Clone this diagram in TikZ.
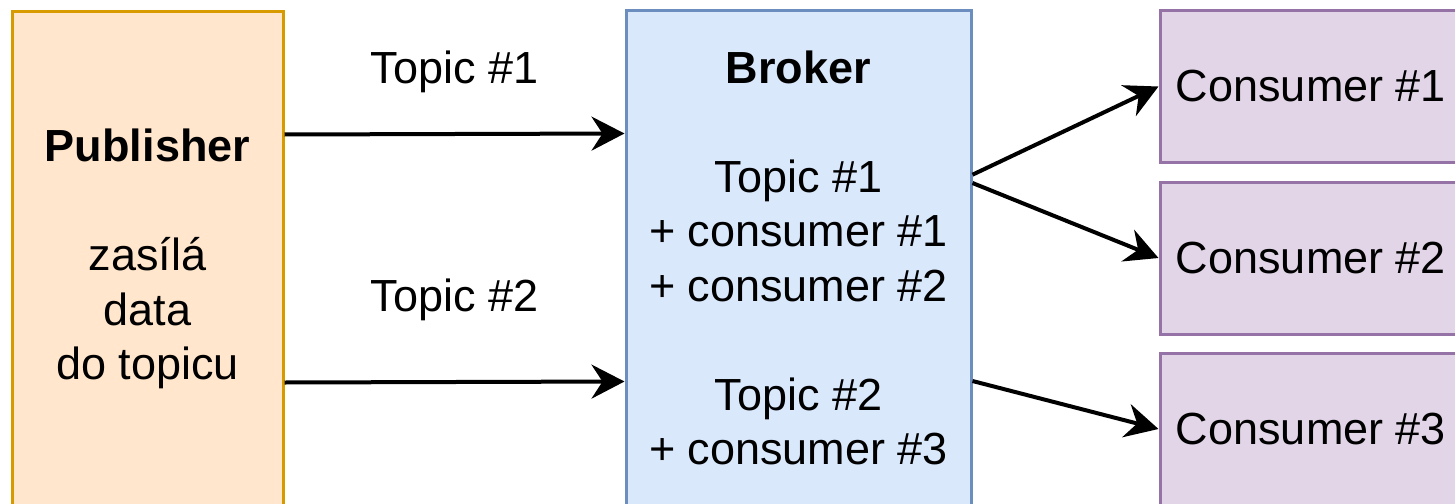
\documentclass[tikz,border=0pt]{standalone}
\usepackage{fontspec}
\setmainfont{Liberation Sans}
\usetikzlibrary{arrows.meta}
\definecolor{pubfill}{HTML}{FFE6CC}
\definecolor{pubdraw}{HTML}{D79B00}
\definecolor{brkfill}{HTML}{DAE8FC}
\definecolor{brkdraw}{HTML}{6C8EBF}
\definecolor{confill}{HTML}{E1D5E7}
\definecolor{condraw}{HTML}{9673A6}
\tikzset{
  box/.style={rectangle, line width=3pt, inner sep=0pt, align=center,
    font=\fontsize{45}{54.5}\selectfont},
  pubbox/.style={box, fill=pubfill, draw=pubdraw, minimum width=271pt, minimum height=495pt},
  brkbox/.style={box, fill=brkfill, draw=brkdraw, minimum width=345pt, minimum height=495pt},
  conbox/.style={box, fill=confill, draw=condraw, minimum width=302pt, minimum height=152pt},
  conn/.style={line width=4pt, -{Stealth[length=33pt,width=34pt,inset=11pt]}},
  lbl/.style={font=\fontsize{45}{54.5}\selectfont, inner sep=0pt}
}
\begin{document}
\begin{tikzpicture}[x=1pt,y=-1pt]
\useasboundingbox (0,0) rectangle (1455,503);
\clip (0,0) rectangle (1455,503);
\node[pubbox] (pub) at (147.5,259) {\textbf{Publisher}\\ \\zasílá\\data\\do topicu};
\node[brkbox] (brk) at (798.5,258) {\textbf{Broker}\\ \\Topic \#1\\+ consumer \#1\\+ consumer \#2\\ \\Topic \#2\\+ consumer \#3};
\node[conbox] (c1) at (1311,86.5) {Consumer \#1};
\node[conbox] (c2) at (1311,258) {Consumer \#2};
\node[conbox] (c3) at (1311,429) {Consumer \#3};
\draw[conn] ([yshift=-124.5pt]pub.north east) -- node[lbl, yshift=62pt] (t1) {Topic \#1} ([yshift=-124.5pt]brk.north west);
\draw[conn] ([yshift=-372.5pt]pub.north east) -- node[lbl, yshift=82pt] (t2) {Topic \#2} ([yshift=-372.5pt]brk.north west);
\draw[conn] ([yshift=-165.7pt]brk.north east) -- (c1.west);
\draw[conn] ([yshift=-174pt]brk.north east) -- (c2.west);
\draw[conn] ([yshift=-372pt]brk.north east) -- (c3.west);
\end{tikzpicture}
\end{document}
